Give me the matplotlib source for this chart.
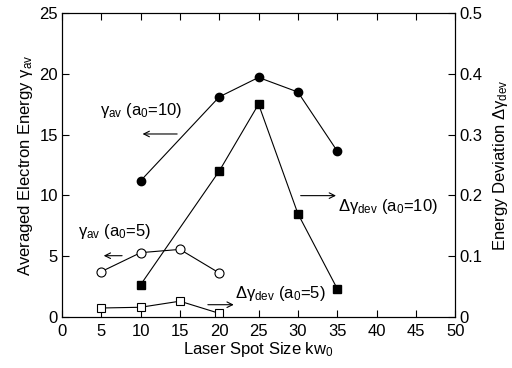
import matplotlib
matplotlib.use("Agg")
import matplotlib.pyplot as plt

plt.rcParams['font.family'] = ['Liberation Sans', 'DejaVu Sans']
plt.rcParams['mathtext.fontset'] = 'custom'
plt.rcParams['mathtext.rm'] = 'Liberation Sans'
plt.rcParams['mathtext.it'] = 'Liberation Sans'
plt.rcParams['mathtext.sf'] = 'Liberation Sans'

x_a10 = [10, 20, 25, 30, 35]
gav_a10 = [11.2, 18.1, 19.7, 18.5, 13.65]
dev_a10 = [0.053, 0.24, 0.35, 0.17, 0.0466]
x_a5 = [5, 10, 15, 20]
gav_a5 = [3.73, 5.29, 5.56, 3.62]
dev_a5 = [0.0148, 0.016, 0.026, 0.006]

xticks = list(range(0, 55, 5))
yticks_l = [0, 5, 10, 15, 20, 25]
yticks_r = [0, 0.1, 0.2, 0.3, 0.4, 0.5]
yticklabels_r = ['0', '0.1', '0.2', '0.3', '0.4', '0.5']

fig = plt.figure(figsize=(5.12, 3.68), dpi=100)
ax = fig.add_axes([0.121, 0.1386, 0.768, 0.8261])
ax2 = ax.twinx()

ax.plot(x_a10, gav_a10, 'k-', marker='o', ms=6, lw=0.8, mfc='k')
ax.plot(x_a5, gav_a5, 'k-', marker='o', ms=6.5, lw=0.8, mfc='white', mew=0.8)
ax2.plot(x_a10, dev_a10, 'k-', marker='s', ms=5.5, lw=0.8, mfc='k')
ax2.plot(x_a5, dev_a5, 'k-', marker='s', ms=6, lw=0.8, mfc='white', mew=0.8)

ax.set_xlim(0, 50)
ax.set_ylim(0, 25)
ax2.set_ylim(0, 0.5)
ax.set_xticks(xticks)
ax.set_yticks(yticks_l)
ax2.set_yticks(yticks_r)
ax2.set_yticklabels(yticklabels_r)

for a in (ax, ax2):
    a.tick_params(direction='in', length=5, width=0.8, labelsize=12, pad=3)
ax.tick_params(top=True)
ax.tick_params(axis='x', pad=5)
ax.set_xlabel(r'Laser Spot Size kw$_0$', fontsize=12, labelpad=1)
ax.set_ylabel(r'Averaged Electron Energy $\gamma_{\rm av}$', fontsize=12, labelpad=3)
ax2.set_ylabel(r'Energy Deviation $\Delta\gamma_{\rm dev}$', fontsize=12, labelpad=6)

fs = 12
ax.text(4.8, 17.0, r'$\gamma_{\rm av}$ (a$_0$=10)', fontsize=fs, va='center')
ax.annotate('', xy=(9.9, 15.05), xytext=(15.0, 15.05),
            arrowprops=dict(arrowstyle='->', lw=0.8, color='k'))
ax.text(2.0, 7.0, r'$\gamma_{\rm av}$ (a$_0$=5)', fontsize=fs, va='center')
ax.annotate('', xy=(4.96, 5.04), xytext=(8.0, 5.04),
            arrowprops=dict(arrowstyle='->', lw=0.8, color='k'))
ax.text(35.1, 9.05, r'$\Delta\gamma_{\rm dev}$ (a$_0$=10)', fontsize=fs, va='center')
ax.annotate('', xy=(35.2, 9.98), xytext=(30.0, 9.98),
            arrowprops=dict(arrowstyle='->', lw=0.8, color='k'))
ax.text(22.0, 1.97, r'$\Delta\gamma_{\rm dev}$ (a$_0$=5)', fontsize=fs, va='center')
ax.annotate('', xy=(22.2, 1.01), xytext=(18.2, 1.01),
            arrowprops=dict(arrowstyle='->', lw=0.8, color='k'))

fig.savefig('out.png', dpi=100)
